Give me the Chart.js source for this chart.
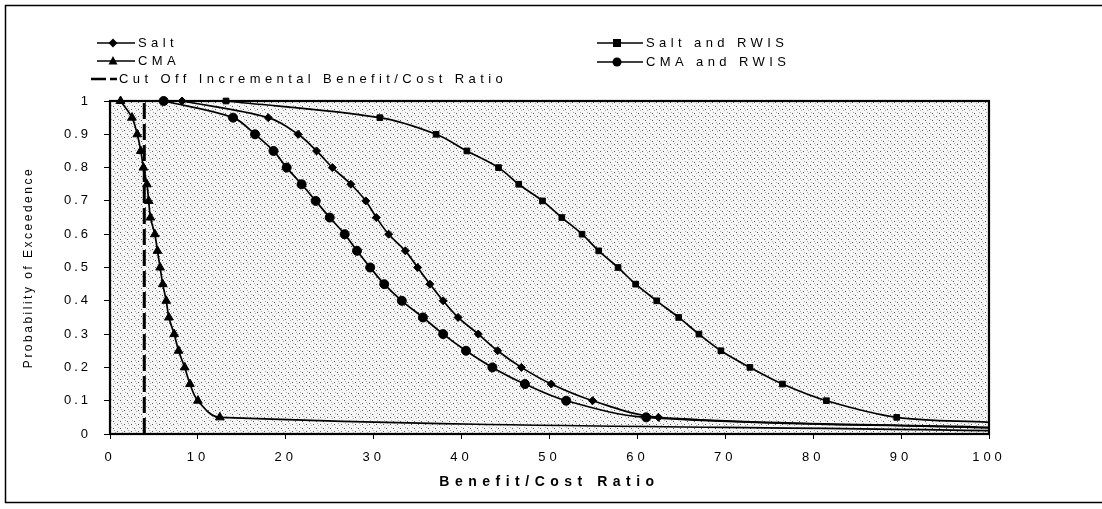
<!DOCTYPE html>
<html>
<head>
<meta charset="utf-8">
<script src="https://cdn.jsdelivr.net/npm/chart.js@4.4.1/dist/chart.umd.min.js"></script>
<style>
  html, body { margin: 0; padding: 0; background: #fff; }
  #wrap { width: 1102px; height: 509px; }
</style>
</head>
<body>
<div id="wrap"><canvas id="bcChart" width="1102" height="509"></canvas></div>
<script>
// exceedance level of each plotted marker (same for all four curves)
const probLevels = [1, 0.95, 0.9, 0.85, 0.8, 0.75, 0.7, 0.65, 0.6, 0.55, 0.5, 0.45, 0.4, 0.35, 0.3, 0.25, 0.2, 0.15, 0.1, 0.05];

// benefit/cost ratio at each exceedance level
const saltX     = [8.2, 18.0, 21.4, 23.5, 25.3, 27.4, 29.1, 30.3, 31.7, 33.6, 35.0, 36.4, 37.9, 39.6, 41.9, 44.1, 46.8, 50.2, 54.9, 62.4];
const cmaX      = [1.2, 2.5, 3.1, 3.5, 3.8, 4.2, 4.4, 4.6, 5.1, 5.4, 5.7, 6.0, 6.4, 6.7, 7.3, 7.8, 8.5, 9.1, 10.0, 12.5];
const saltRwisX = [13.2, 30.7, 37.1, 40.6, 44.2, 46.5, 49.2, 51.4, 53.7, 55.6, 57.8, 59.8, 62.2, 64.7, 67.0, 69.5, 72.8, 76.5, 81.5, 89.5];
const cmaRwisX  = [6.1, 14.0, 16.5, 18.6, 20.1, 21.8, 23.4, 25.0, 26.7, 28.1, 29.6, 31.2, 33.2, 35.6, 37.9, 40.5, 43.5, 47.2, 51.9, 61.0];

// where each curve runs out at the right edge (ratio 100)
const tailX = 100;
const saltTail = 0.02;
const cmaTail = 0.01;
const saltRwisTail = 0.035;
const cmaRwisTail = 0.018;

// cut off incremental benefit/cost ratio
const cutOffRatio = 3.9;

const xTickLabels = ['0', '10', '20', '30', '40', '50', '60', '70', '80', '90', '100'];
const yTickLabels = ['0', '0.1', '0.2', '0.3', '0.4', '0.5', '0.6', '0.7', '0.8', '0.9', '1'];

const FONT = '"Liberation Sans", Arial, sans-serif';

// character spacing per piece of axis text
const spacing = {
    x: { labels: '4px', title: '5.5px' },
    y: { labels: '3px', title: '2.5px' }
};

function curve(label, xs, tail, style, radius) {
    const pts = xs.map((x, i) => ({ x: x, y: probLevels[i] }));
    pts.push({ x: tailX, y: tail });
    // no marker on the run-out point
    const radii = xs.map(() => radius);
    radii.push(0);
    return {
        label: label,
        data: pts,
        showLine: true,
        borderColor: '#000',
        backgroundColor: '#000',
        pointBorderColor: '#000',
        borderWidth: 1.7,
        pointStyle: style,
        pointRadius: radii,
        pointBorderWidth: 1,
        tension: 0.35,
        clip: 8
    };
}

// dotted grey fill used behind the curves
function stipple(ctx) {
    const c = document.createElement('canvas');
    c.width = 7; c.height = 7;
    const g = c.getContext('2d');
    g.fillStyle = '#f6f6f6';
    g.fillRect(0, 0, 7, 7);
    g.fillStyle = '#555';
    g.fillRect(1, 1, 1, 1);
    g.fillRect(5, 4, 1, 1);
    g.fillStyle = '#aaa';
    g.fillRect(3, 5, 1, 1);
    g.fillRect(6, 0, 1, 1);
    g.fillRect(2, 3, 1, 1);
    return ctx.createPattern(c, 'repeat');
}

function marker(ctx, style, x, y) {
    ctx.beginPath();
    if (style === 'rectRot') {
        ctx.moveTo(x, y - 4.5); ctx.lineTo(x + 4.5, y); ctx.lineTo(x, y + 4.5); ctx.lineTo(x - 4.5, y);
    } else if (style === 'triangle') {
        ctx.moveTo(x, y - 5); ctx.lineTo(x + 4.5, y + 3.5); ctx.lineTo(x - 4.5, y + 3.5);
    } else if (style === 'rect') {
        ctx.rect(x - 4, y - 4, 8, 8);
    } else {
        ctx.arc(x, y, 4.5, 0, Math.PI * 2);
    }
    ctx.closePath();
    ctx.fill();
}

// wrap a scale's text drawing so it uses its own letter spacing
function spaced(scale, fnName, gap) {
    const orig = scale[fnName];
    scale[fnName] = function () {
        const ctx = this.ctx;
        const prev = ctx.letterSpacing;
        ctx.letterSpacing = gap;
        orig.apply(this, arguments);
        ctx.letterSpacing = prev;
    };
}

const chartDecor = {
    id: 'chartDecor',
    beforeDraw(chart) {
        if (!chart.$spaced) {
            ['x', 'y'].forEach(id => {
                spaced(chart.scales[id], 'drawLabels', spacing[id].labels);
                spaced(chart.scales[id], 'drawTitle', spacing[id].title);
            });
            chart.$spaced = true;
        }
        const ctx = chart.ctx;
        const a = chart.chartArea;
        ctx.save();
        ctx.fillStyle = stipple(ctx);
        ctx.fillRect(a.left, a.top, a.right - a.left, a.bottom - a.top);
        ctx.restore();
    },
    beforeDatasetsDraw(chart) {
        const ctx = chart.ctx;
        const a = chart.chartArea;
        ctx.save();
        ctx.strokeStyle = '#000';
        ctx.lineWidth = 2.2;
        ctx.strokeRect(a.left, a.top, a.right - a.left, a.bottom - a.top);
        ctx.restore();
    },
    afterDraw(chart) {
        const ctx = chart.ctx;
        ctx.save();
        // outer frame of the figure
        ctx.strokeStyle = '#000';
        ctx.lineWidth = 1.5;
        ctx.strokeRect(5.5, 5.5, 1100, 497);

        // legend, two columns
        const items = [
            { text: 'Salt', style: 'rectRot', x1: 97, x2: 135, y: 43 },
            { text: 'CMA', style: 'triangle', x1: 97, x2: 135, y: 61 },
            { text: 'Salt and RWIS', style: 'rect', x1: 597, x2: 643, y: 43 },
            { text: 'CMA and RWIS', style: 'circle', x1: 597, x2: 643, y: 62 }
        ];
        ctx.font = '13px ' + FONT;
        ctx.letterSpacing = '4.4px';
        ctx.textBaseline = 'middle';
        ctx.fillStyle = '#000';
        items.forEach(it => {
            ctx.lineWidth = 1.4;
            ctx.beginPath();
            ctx.moveTo(it.x1, it.y);
            ctx.lineTo(it.x2, it.y);
            ctx.stroke();
            marker(ctx, it.style, (it.x1 + it.x2) / 2 - 3, it.y);
            ctx.fillText(it.text, it.x2 + 3, it.y);
        });
        ctx.lineWidth = 2.5;
        ctx.beginPath();
        ctx.moveTo(91, 79); ctx.lineTo(106, 79);
        ctx.moveTo(110, 79); ctx.lineTo(117, 79);
        ctx.stroke();
        ctx.fillText('Cut Off Incremental Benefit/Cost Ratio', 119, 79);
        ctx.restore();
    }
};

const ctx = document.getElementById('bcChart').getContext('2d');
new Chart(ctx, {
    type: 'scatter',
    data: {
        datasets: [
            curve('Salt', saltX, saltTail, 'rectRot', 4),
            curve('CMA', cmaX, cmaTail, 'triangle', 5),
            curve('Salt and RWIS', saltRwisX, saltRwisTail, 'rect', 4),
            curve('CMA and RWIS', cmaRwisX, cmaRwisTail, 'circle', 4.5),
            {
                label: 'Cut Off Incremental Benefit/Cost Ratio',
                data: [{ x: cutOffRatio, y: 0 }, { x: cutOffRatio, y: 1 }],
                showLine: true,
                borderColor: '#000',
                borderWidth: 3,
                borderDash: [16, 5],
                pointRadius: 0,
                tension: 0
            }
        ]
    },
    options: {
        responsive: false,
        animation: false,
        events: [],
        devicePixelRatio: 1,
        layout: { padding: { top: 101, right: 113, left: 0, bottom: 0 } },
        plugins: { legend: { display: false }, tooltip: { enabled: false } },
        scales: {
            x: {
                type: 'linear',
                min: 0,
                max: 100,
                afterFit: s => { s.height = 75; },
                afterBuildTicks: s => { s.ticks = xTickLabels.map((t, i) => ({ value: i * 10 })); },
                ticks: {
                    autoSkip: false,
                    maxRotation: 0,
                    padding: 11,
                    color: '#000',
                    font: { family: FONT, size: 13 },
                    callback: (v, i) => xTickLabels[i]
                },
                grid: { drawOnChartArea: false, tickLength: 5, color: '#000' },
                border: { display: false },
                title: {
                    display: true,
                    text: 'Benefit/Cost Ratio',
                    color: '#000',
                    font: { family: FONT, size: 14, weight: 'bold' },
                    padding: { top: 0, bottom: 18 }
                }
            },
            y: {
                type: 'linear',
                min: 0,
                max: 1,
                afterFit: s => { s.width = 110; },
                afterBuildTicks: s => { s.ticks = yTickLabels.map((t, i) => ({ value: i / 10 })); },
                ticks: {
                    autoSkip: false,
                    padding: 13,
                    color: '#000',
                    font: { family: FONT, size: 13 },
                    callback: (v, i) => yTickLabels[i]
                },
                grid: { drawOnChartArea: false, tickLength: 6, color: '#000' },
                border: { display: false },
                title: {
                    display: true,
                    text: 'Probability of Exceedence',
                    color: '#000',
                    font: { family: FONT, size: 12 },
                    padding: { top: 21, bottom: 0 }
                }
            }
        }
    },
    plugins: [chartDecor]
});
</script>
</body>
</html>
